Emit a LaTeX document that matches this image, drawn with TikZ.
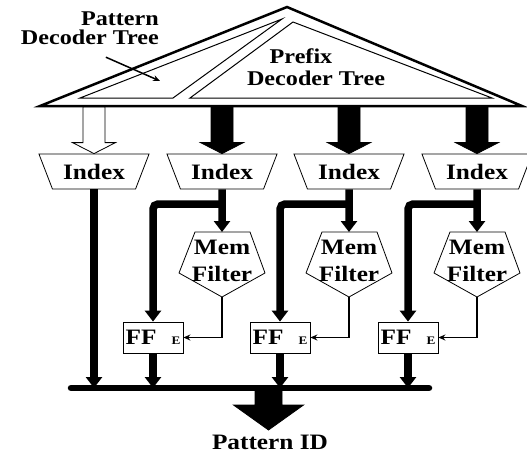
\documentclass[tikz,border=0pt]{standalone}
\usepackage{fontspec}
\setmainfont{Liberation Serif}[FakeStretch=1.15]
\usetikzlibrary{shapes.geometric,arrows.meta,calc}

\tikzset{
  lbl/.style={font=\bfseries\fontsize{22}{25}\selectfont, align=center, inner sep=0pt},
  idxbox/.style={lbl, draw, line width=0.8pt, trapezium, shape border rotate=180,
    trapezium stretches=true, minimum width=111pt, minimum height=35pt,
    trapezium left angle=57, trapezium right angle=57},
  ffbox/.style={lbl, draw, line width=0.8pt, minimum width=60pt, minimum height=31pt},
  bold/.style={line width=7.5pt, -{Triangle[length=11pt,width=16pt]}},
  sig/.style={line width=1.5pt, -{Stealth[length=7pt,width=6pt]}},
  fat/.style={line width=0.8pt, line join=miter},
}

\begin{document}
\begin{tikzpicture}[x=1pt,y=-1pt]
	\useasboundingbox (0,0) rectangle (527,456);

	\foreach \i/\cx/\col in {1/94/white,2/222/black,3/349/black,4/477/black}{
		\node[idxbox] (idx\i) at (\cx,171.5) {Index};
		\draw[fat, fill=\col] (idx\i.north) -- ++(-21.5,-11) -- ++(10.5,0) -- ++(0,-36) -- ++(22,0) -- ++(0,36) -- ++(10.5,0) -- cycle;
	}

	\draw[line width=2.5pt, line join=miter] (40,106) -- (287,7) -- (522,106) -- cycle;
	\draw[line width=1pt] (80,98) -- (282,19) -- (173,98) -- cycle;
	\draw[line width=1pt] (190,98) -- (293,22) -- (492,98) -- cycle;
	\node[lbl, font=\bfseries\fontsize{21}{19}\selectfont, align=right, anchor=east] (pdt) at (159,28.5) {Pattern\\Decoder Tree};
	\node[lbl, font=\bfseries\fontsize{21}{22}\selectfont] (xdt) at (316,67) {Prefix\hspace*{30pt}\\Decoder Tree};
	\coordinate (pdtip) at (160,81);
	\draw[sig] ([shift={(16,12)}]pdt.south) -- (pdtip);

	\coordinate (busL) at (71,388);
	\coordinate (busR) at (429,388);
	\draw[line width=6.5pt, line cap=round] (busL) -- (busR);
	\draw[bold] (idx1.south) -- (idx1.south |- busL);

	\foreach \i/\cx in {2/222,3/349,4/477}{
		\node[lbl, font=\bfseries\fontsize{22}{27}\selectfont] (mem\i) at (\cx,261) {Mem\\Filter};
		\draw[line width=0.8pt] (\cx-27,232) -- (\cx+28,232) -- (\cx+43,273) -- (\cx,297) -- (\cx-43,273) -- cycle;
		\node[ffbox] (ff\i) at (\cx-69,337.5) {FF\hspace{15pt}{\fontsize{11.5}{12}\selectfont E}};
		\draw[bold] (idx\i.south) -- (\cx,232);
		\draw[bold, rounded corners=5pt] (\cx,204) -| (ff\i.north);
		\draw[sig] (\cx,297) |- (ff\i.east);
		\draw[bold] (ff\i.south) -- (ff\i.south |- busL);
	}

	\node[lbl] (pid) at (270,442.5) {Pattern ID};
	\coordinate (outtip) at (268.5,430);
	\draw[fat, fill=black] (outtip) -- ++(-35,-25) -- ++(21.5,0) -- ++(0,-17) -- ++(27,0) -- ++(0,17) -- ++(21.5,0) -- cycle;
\end{tikzpicture}
\end{document}
